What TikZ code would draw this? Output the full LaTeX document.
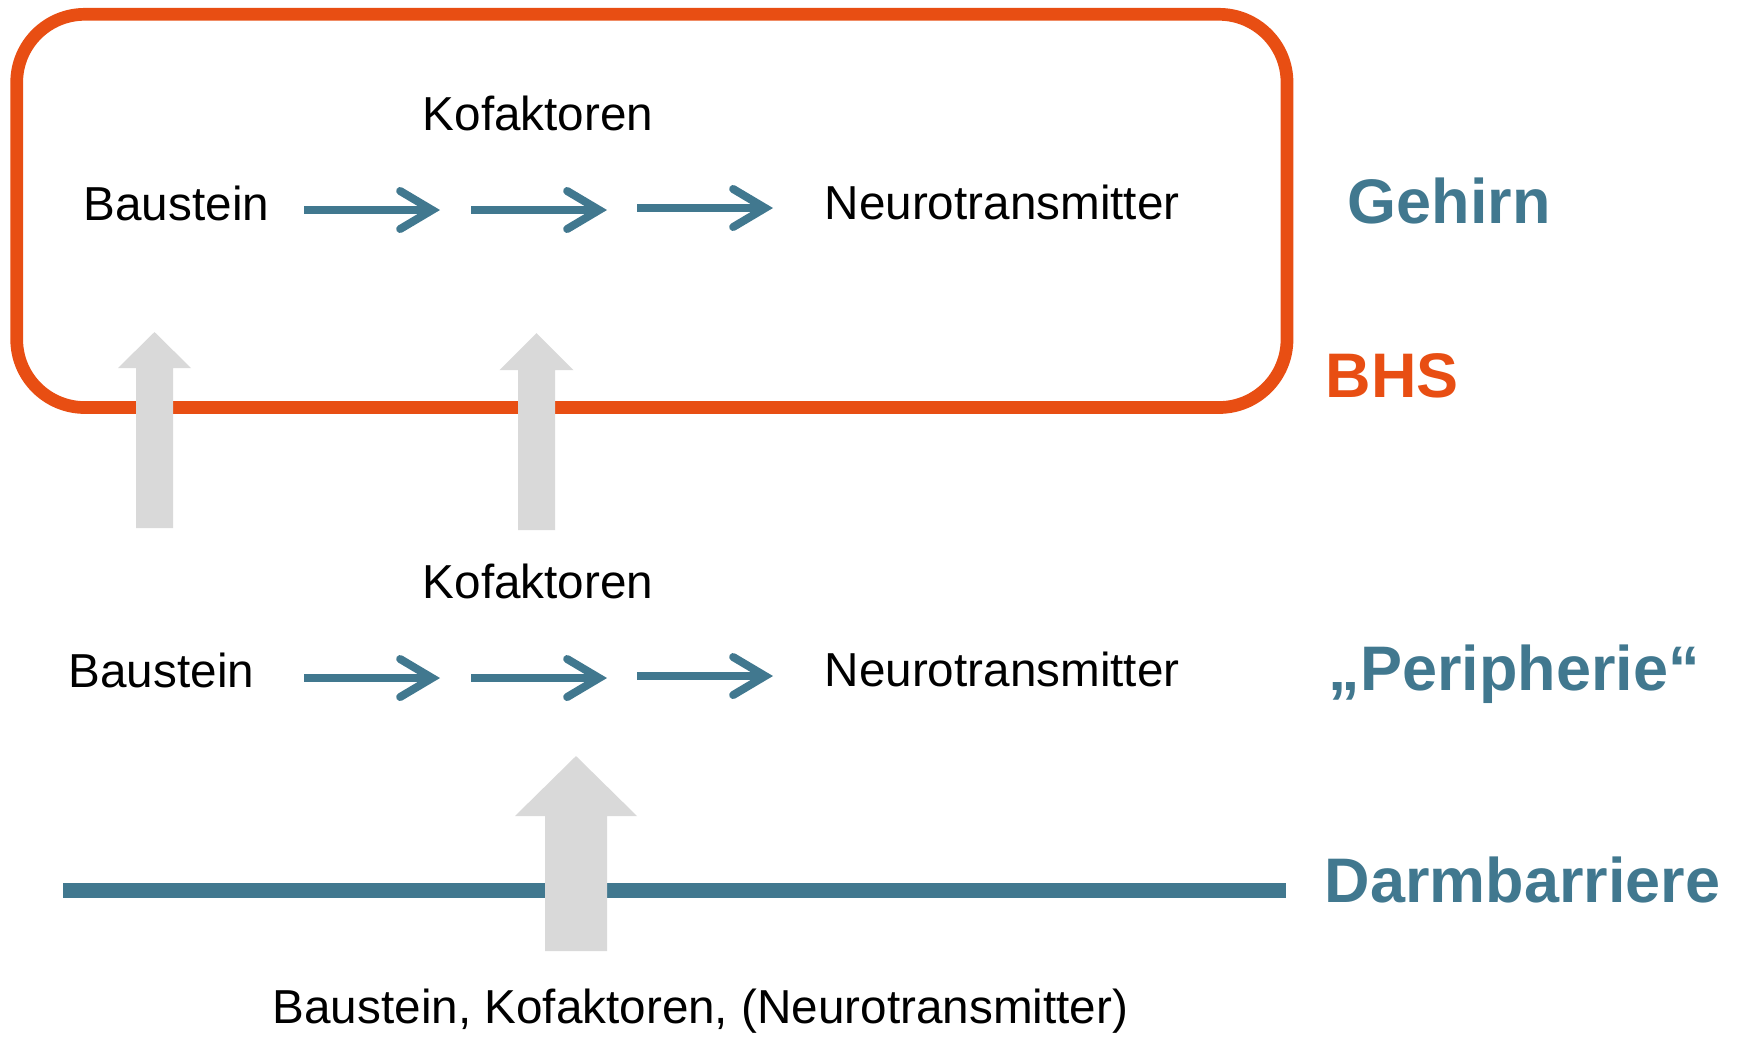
\documentclass[tikz,border=0pt]{standalone}
\usepackage{fontspec}
\setmainfont{Liberation Sans}
\usetikzlibrary{arrows.meta}

\definecolor{bhsorange}{HTML}{E84E13}
\definecolor{petrol}{HTML}{41788F}
\definecolor{lightgrey}{HTML}{D9D9D9}

\tikzset{
	txt/.style={anchor=base west, inner sep=0pt, font=\fontsize{13.55}{16}\selectfont},
	region/.style={anchor=base west, inner sep=0pt, font=\bfseries\fontsize{17.9}{21}\selectfont},
	flow/.style={draw=petrol, line width=0.8mm, -{Straight Barb[length=3.2mm,width=3.8mm,line cap=round]}},
}

\begin{document}
\begin{tikzpicture}[x=0.01cm,y=-0.01cm]
\useasboundingbox (0,0) rectangle (1739,1038);

% Gehirn (Blut-Hirn-Schranke)
\draw[bhsorange, line width=1.27mm, rounded corners=6.8mm] (16.7,14.3) rectangle (1287,407.5);

% Synthese im Gehirn und in der Peripherie
\node[txt] (bau1) at (83,220) {Baustein};
\node[txt, anchor=base] (kof1) at (538,130) {Kofaktoren};
\node[txt] (neu1) at (824,219) {Neurotransmitter};

\node[txt] (bau2) at (68,687) {Baustein};
\node[txt, anchor=base] (kof2) at (538,598) {Kofaktoren};
\node[txt] (neu2) at (824,686) {Neurotransmitter};

\foreach \r/\y in {1/0,2/468}{
\foreach \a/\b/\d [count=\k] in {304/440/210,471/607/210,637/773/208}{
	\coordinate (s\r\k) at (\a,\d+\y);
	\coordinate (e\r\k) at (\b,\d+\y);
	\draw[flow] (s\r\k) -- (e\r\k);
}
}

% Transport nach oben
\foreach \x/\t/\h/\b/\s/\w in {154.5/332/368/528/18.5/36.5, 536.5/333/370/530/18.5/37}{
	\fill[lightgrey] ({\x-\s},\b) -- ({\x-\s},\h) -- ({\x-\w},\h) -- (\x,\t)
		-- ({\x+\w},\h) -- ({\x+\s},\h) -- ({\x+\s},\b) -- cycle;
}

% Darmbarriere
\coordinate (d1) at (63,890.6);
\coordinate (d2) at (1286,890.6);
\draw[petrol, line width=1.5mm] (d1) -- (d2);

\fill[lightgrey] (545,951) -- (545,816) -- (515,816) -- (576,756)
	-- (637,816) -- (607,816) -- (607,951) -- cycle;

\node[txt] (nahr) at (272,1023) {Baustein, Kofaktoren, (Neurotransmitter)};

% Bereiche
\node[region, text=petrol] (geh) at (1347,223) {Gehirn};
\node[region, text=bhsorange] (bhs) at (1325,397) {BHS};
\node[region, text=petrol] (per) at (1328,690) {„Peripherie“};
\node[region, text=petrol] (darm) at (1324,902) {Darmbarriere};
\end{tikzpicture}
\end{document}
